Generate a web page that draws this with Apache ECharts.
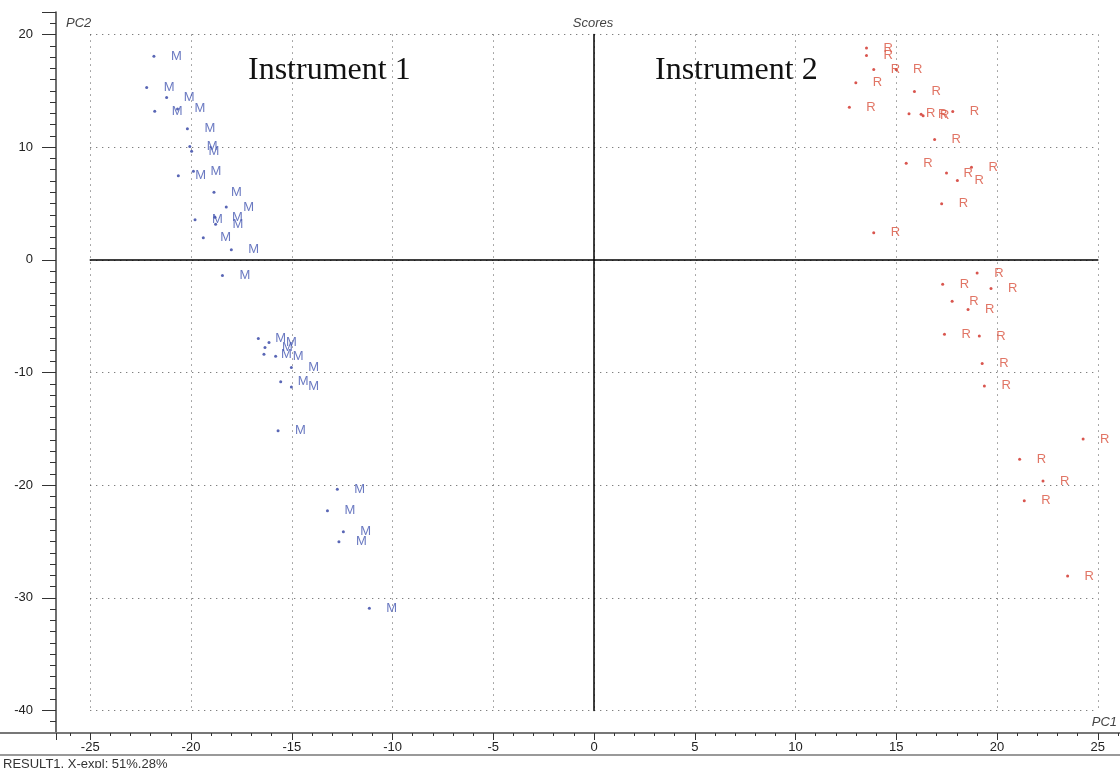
<!DOCTYPE html>
<html>
<head>
<meta charset="utf-8">
<script src="https://cdn.jsdelivr.net/npm/echarts@6/dist/echarts.min.js"></script>
<style>
html,body{margin:0;padding:0;background:#fff;}
#c{width:1120px;height:768px;}
</style>
</head>
<body>
<div id="c"></div>
<script>
// ---- data ----
const seriesNames = ['M', 'R'];
const mX = [-21.84,-22.20,-21.21,-21.80,-20.67,-20.18,-20.06,-19.97,-20.63,-19.88,-18.86,-18.25,-19.80,-18.81,-18.78,-19.39,-18.00,-18.44,-16.66,-16.13,-16.33,-16.38,-15.80,-15.02,-15.55,-15.02,-15.68,-12.74,-13.23,-12.44,-12.66,-11.15];
const mY = [18.07,15.29,14.41,13.19,13.40,11.63,10.06,9.65,7.46,7.87,6.01,4.68,3.56,3.79,3.15,1.97,0.90,-1.40,-6.99,-7.34,-7.78,-8.38,-8.55,-9.56,-10.83,-11.28,-15.18,-20.37,-22.27,-24.13,-25.02,-30.92];
const rX = [13.52,13.52,13.88,14.99,12.99,15.90,12.67,15.63,16.23,16.33,17.80,16.90,15.49,17.49,18.03,18.73,17.25,13.88,19.01,17.30,19.70,17.77,18.56,17.39,19.12,19.26,19.37,24.27,21.12,22.28,21.35,23.50];
const rY = [18.81,18.13,16.89,16.89,15.71,14.94,13.55,12.96,12.93,12.78,13.16,10.68,8.58,7.70,7.05,8.23,4.98,2.41,-1.17,-2.17,-2.55,-3.68,-4.41,-6.60,-6.76,-9.20,-11.19,-15.91,-17.71,-19.64,-21.38,-28.06];
const xTickLabels = [-25,-20,-15,-10,-5,0,5,10,15,20,25];
const yTickLabels = [-40,-30,-20,-10,0,10,20];
const xRange = [-26.7, 26.1];
const yRange = [-42, 22];
const boxX = [-25, 25];
const boxY = [-40, 20];
const annotationTexts = ['Instrument 1', 'Instrument 2'];
const axisNames = ['PC1', 'PC2'];
const plotTitle = 'Scores';
const footerText = 'RESULT1, X-expl: 51%,28%';

// ---- layout ----
const PW = 1120, PH = 768;
const G = {left: 56, top: 12, right: 0, bottom: 35};
const W = PW - G.left - G.right, H = PH - G.top - G.bottom;
const sx = W / (xRange[1] - xRange[0]);
const sy = H / (yRange[1] - yRange[0]);
const box = {
  left: G.left + (boxX[0] - xRange[0]) * sx,
  right: PW - (G.left + (boxX[1] - xRange[0]) * sx),
  top: G.top + (yRange[1] - boxY[1]) * sy,
  bottom: PH - (G.top + (yRange[1] - boxY[0]) * sy)
};
const axisY = PH - G.bottom;

const sans = 'Liberation Sans, Arial, sans-serif';
const serif = 'Liberation Serif, Times New Roman, serif';

const chart = echarts.init(document.getElementById('c'));
const dotted = {color: '#555', width: 1, type: [1, 5]};

chart.setOption({
  animation: false,
  backgroundColor: '#fff',
  grid: [
    {left: G.left, right: G.right, top: G.top, bottom: G.bottom},
    {left: box.left, right: box.right, top: box.top, bottom: box.bottom}
  ],
  xAxis: [
    {
      gridIndex: 0, type: 'value', min: xRange[0], max: xRange[1],
      minInterval: 5, maxInterval: 5, splitNumber: 10,
      axisLine: {onZero: false, lineStyle: {color: '#777', width: 2}},
      axisTick: {length: 7, lineStyle: {color: '#333', width: 1}},
      minorTick: {show: true, splitNumber: 5, length: 3, lineStyle: {color: '#333', width: 1}},
      axisLabel: {
        showMinLabel: false, showMaxLabel: false, margin: 8,
        fontSize: 13, color: '#222', fontFamily: sans,
        formatter: v => xTickLabels.includes(v) ? String(v) : ''
      },
      splitLine: {show: false}
    },
    {
      gridIndex: 1, type: 'value', min: boxX[0], max: boxX[1], interval: 5,
      axisLine: {onZero: true, lineStyle: {color: '#000', width: 1.5}},
      axisTick: {show: false}, axisLabel: {show: false},
      splitLine: {show: true, lineStyle: dotted}
    }
  ],
  yAxis: [
    {
      gridIndex: 0, type: 'value', min: yRange[0], max: yRange[1],
      minInterval: 10, maxInterval: 10, splitNumber: 6,
      axisLine: {onZero: false, lineStyle: {color: '#555', width: 1.7}},
      axisTick: {length: 14, lineStyle: {color: '#333', width: 1}},
      minorTick: {show: true, splitNumber: 10, length: 6, lineStyle: {color: '#333', width: 1}},
      axisLabel: {
        showMinLabel: false, showMaxLabel: false, margin: 23,
        fontSize: 13, color: '#222', fontFamily: sans,
        formatter: v => yTickLabels.includes(v) ? String(v) : ''
      },
      splitLine: {show: false}
    },
    {
      gridIndex: 1, type: 'value', min: boxY[0], max: boxY[1], interval: 10,
      axisLine: {onZero: true, lineStyle: {color: '#000', width: 1.5}},
      axisTick: {show: false}, axisLabel: {show: false},
      splitLine: {show: true, lineStyle: dotted}
    }
  ],
  series: [
    {
      name: seriesNames[0], type: 'scatter', xAxisIndex: 0, yAxisIndex: 0,
      data: mX.map((x, i) => [x, mY[i]]),
      symbol: 'circle', symbolSize: 3,
      itemStyle: {color: '#2f40a2'},
      label: {show: true, position: 'right', distance: 15.5, formatter: seriesNames[0],
              color: '#4557b2', fontSize: 13, fontFamily: sans},
      z: 5
    },
    {
      name: seriesNames[1], type: 'scatter', xAxisIndex: 0, yAxisIndex: 0,
      data: rX.map((x, i) => [x, rY[i]]),
      symbol: 'circle', symbolSize: 3,
      itemStyle: {color: '#d02a22'},
      label: {show: true, position: 'right', distance: 15.5, formatter: seriesNames[1],
              color: '#d9533f', fontSize: 13, fontFamily: sans},
      z: 5
    }
  ],
  graphic: [
    {type: 'text', x: 248, y: 71, z: 10,
     style: {text: annotationTexts[0], font: '32px ' + serif, fill: '#111', align: 'left', verticalAlign: 'middle', textAlign: 'left', textVerticalAlign: 'middle'}},
    {type: 'text', x: 655, y: 71, z: 10,
     style: {text: annotationTexts[1], font: '32px ' + serif, fill: '#111', align: 'left', verticalAlign: 'middle', textAlign: 'left', textVerticalAlign: 'middle'}},
    {type: 'text', x: 593, y: 23, z: 10,
     style: {text: plotTitle, font: 'italic 13px ' + sans, fill: '#444', align: 'center', verticalAlign: 'middle', textAlign: 'center', textVerticalAlign: 'middle'}},
    {type: 'text', x: 66, y: 23, z: 10,
     style: {text: axisNames[1], font: 'italic 13px ' + sans, fill: '#444', align: 'left', verticalAlign: 'middle', textAlign: 'left', textVerticalAlign: 'middle'}},
    {type: 'text', x: 1117, y: 722, z: 10,
     style: {text: axisNames[0], font: 'italic 13px ' + sans, fill: '#444', align: 'right', verticalAlign: 'middle', textAlign: 'right', textVerticalAlign: 'middle'}},
    {type: 'text', x: 3, y: 764, z: 10,
     style: {text: footerText, font: '13px ' + sans, fill: '#333', align: 'left', verticalAlign: 'middle', textAlign: 'left', textVerticalAlign: 'middle'}},
    {type: 'line', z: 10, shape: {x1: 0, y1: axisY, x2: G.left, y2: axisY}, style: {stroke: '#777', lineWidth: 2}},
    {type: 'line', z: 10, shape: {x1: 0, y1: 755, x2: PW, y2: 755}, style: {stroke: '#999', lineWidth: 2}}
  ]
});
</script>
</body>
</html>
